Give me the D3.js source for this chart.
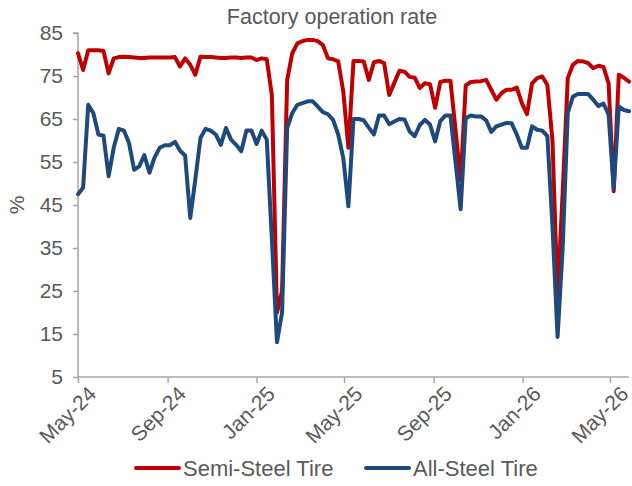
<!DOCTYPE html>
<html>
<head>
<meta charset="utf-8">
<title>Factory operation rate</title>
<script src="https://d3js.org/d3.v7.min.js"></script>
<style>
  body { margin: 0; background: #fff; }
  text { font-family: "Liberation Sans", Arial, sans-serif; fill: #595959; }
</style>
</head>
<body>
<svg width="632" height="486"></svg>
<script>
const width = 632;
const height = 486;

// weekly readings, first week starting 2024-05-01
const startDate = new Date(2024, 4, 1);

const semiSteel = [
  80.3, 76.4, 81.0, 81.0, 81.0, 80.8, 75.6, 79.1, 79.4, 79.5,
  79.4, 79.3, 79.2, 79.2, 79.3, 79.3, 79.3, 79.3, 79.3, 79.4,
  77.2, 79.1, 77.6, 75.3, 79.5, 79.4, 79.4, 79.3, 79.2, 79.2,
  79.3, 79.3, 79.2, 79.3, 79.3, 78.7, 79.1, 78.9, 70.5, 20.0,
  25.0, 74.1, 80.3, 82.6, 83.1, 83.4, 83.4, 83.1, 82.2, 79.1,
  78.9, 78.4, 71.4, 58.3, 78.5, 78.5, 78.4, 74.1, 78.2, 78.5,
  78.0, 70.6, 73.4, 76.2, 76.0, 74.8, 74.6, 72.2, 73.3, 73.1,
  67.6, 73.6, 73.9, 73.9, 62.5, 50.7, 72.8, 73.6, 73.7, 73.8,
  74.1, 71.8, 69.5, 71.0, 71.8, 71.8, 72.3, 68.7, 66.1, 73.3,
  74.5, 74.9, 72.9, 60.0, 23.5, 48.0, 74.5, 77.6, 78.5, 78.4,
  78.0, 76.8, 77.4, 77.1, 73.3, 48.2, 75.3, 74.6, 73.7
];

const allSteel = [
  47.5, 49.0, 68.3, 66.4, 61.4, 61.1, 51.7, 58.3, 62.7, 62.3,
  59.4, 53.2, 54.0, 56.6, 52.5, 56.0, 58.3, 58.9, 58.9, 59.7,
  57.6, 56.5, 42.0, 51.0, 60.6, 62.7, 62.3, 61.4, 59.0, 62.9,
  60.2, 59.0, 57.5, 62.3, 62.3, 59.2, 62.3, 60.2, 37.0, 13.1,
  20.0, 62.9, 66.4, 68.3, 68.7, 69.1, 69.1, 67.9, 66.6, 66.1,
  64.8, 61.4, 55.9, 44.7, 65.0, 65.0, 64.7, 63.0, 61.4, 65.8,
  65.8, 63.8, 64.4, 65.0, 64.9, 62.1, 61.0, 63.6, 64.8, 63.7,
  59.8, 64.5, 65.8, 65.8, 55.0, 44.0, 65.2, 65.8, 65.6, 65.6,
  64.7, 62.0, 63.3, 63.7, 64.1, 64.0, 61.4, 58.3, 58.3, 63.3,
  62.5, 62.3, 61.0, 40.0, 14.3, 35.0, 66.4, 70.2, 70.8, 70.8,
  70.8, 69.5, 68.0, 68.6, 66.0, 48.8, 67.9, 67.1, 66.8
];

const yTicks = [5, 15, 25, 35, 45, 55, 65, 75, 85];
const xTicks = [
  new Date(2024, 4, 1), new Date(2024, 8, 1), new Date(2025, 0, 1),
  new Date(2025, 4, 1), new Date(2025, 8, 1), new Date(2026, 0, 1),
  new Date(2026, 4, 1)
];
const seriesNames = ["Semi-Steel Tire", "All-Steel Tire"];
const seriesColors = ["#C00000", "#1F497D"];

const dates = semiSteel.map((d, i) => d3.timeDay.offset(startDate, 7 * i));

const margin = { top: 33, right: 3, bottom: 109, left: 78 };

const svg = d3.select("svg");

const x = d3.scaleTime()
    .domain([startDate, dates[dates.length - 1]])
    .range([margin.left, width - margin.right]);

const y = d3.scaleLinear()
    .domain([5, 85])
    .range([height - margin.bottom, margin.top]);

// axes
const yAxis = svg.append("g")
    .attr("transform", `translate(${margin.left},0)`)
    .call(d3.axisLeft(y).tickValues(yTicks).tickSize(5).tickPadding(10));
const xAxis = svg.append("g")
    .attr("transform", `translate(0,${height - margin.bottom})`)
    .call(d3.axisBottom(x).tickValues(xTicks).tickSize(6).tickFormat(d3.timeFormat("%b-%y")));

[yAxis, xAxis].forEach(ax => {
    ax.selectAll("path, line").attr("stroke", "#a6a6a6").attr("stroke-width", 1.5);
    ax.selectAll("text")
        .style("font-family", "'Liberation Sans', Arial, sans-serif")
        .style("font-size", "21px")
        .attr("fill", "#595959");
});
yAxis.select(".domain").attr("d", `M-5,${y(85)}H0V${y(5)}`);
xAxis.select(".domain").attr("d", `M${margin.left},0H${width - margin.right}`);

xAxis.selectAll("text")
    .attr("text-anchor", "end")
    .attr("transform", "translate(8,7) rotate(-45)")
    .attr("dy", "0.75em")
    .attr("y", 0);

// lines
const line = d3.line()
    .x((d, i) => x(dates[i]))
    .y(d => y(d));

[semiSteel, allSteel].forEach((s, k) => {
    svg.append("path")
        .datum(s)
        .attr("fill", "none")
        .attr("stroke", seriesColors[k])
        .attr("stroke-width", 4)
        .attr("stroke-linejoin", "round")
        .attr("stroke-linecap", "round")
        .attr("d", line);
});

// title and y label
svg.append("text")
    .attr("x", 332)
    .attr("y", 24)
    .attr("text-anchor", "middle")
    .style("font-size", "21.5px")
    .text("Factory operation rate");

svg.append("text")
    .attr("transform", "translate(24,205) rotate(-90)")
    .attr("text-anchor", "middle")
    .style("font-size", "21px")
    .text("%");

// legend
const legendItems = [
    { name: seriesNames[0], color: seriesColors[0], x: 136 },
    { name: seriesNames[1], color: seriesColors[1], x: 366 }
];
const legend = svg.append("g");
legendItems.forEach(it => {
    legend.append("line")
        .attr("x1", it.x).attr("x2", it.x + 43)
        .attr("y1", 468).attr("y2", 468)
        .attr("stroke", it.color)
        .attr("stroke-width", 4)
        .attr("stroke-linecap", "round");
    legend.append("text")
        .attr("x", it.x + 47)
        .attr("y", 476)
        .style("font-size", "22px")
        .text(it.name);
});
</script>
</body>
</html>
